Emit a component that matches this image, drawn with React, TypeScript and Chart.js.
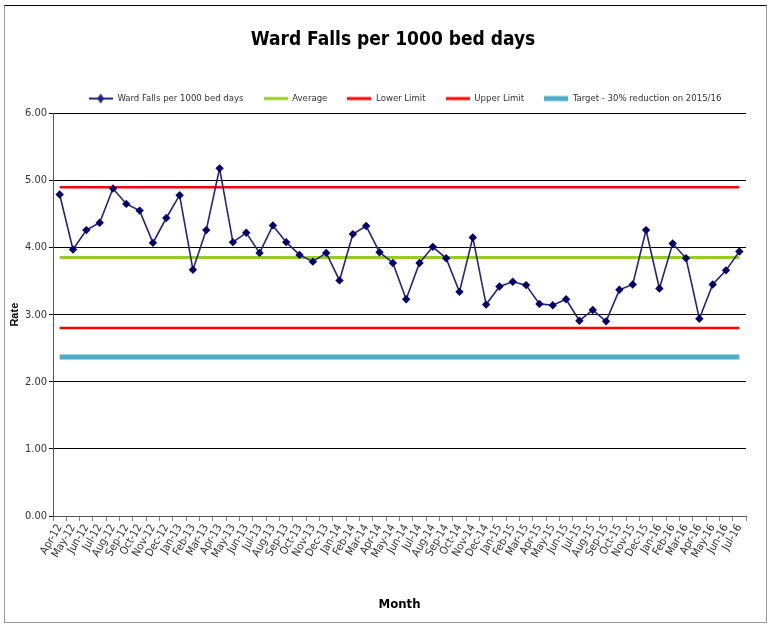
import React, { useEffect, useRef } from "react";
import { Chart, registerables } from "chart.js";

Chart.register(...registerables);

const months = [
  "Apr-12","May-12","Jun-12","Jul-12","Aug-12","Sep-12","Oct-12","Nov-12","Dec-12",
  "Jan-13","Feb-13","Mar-13","Apr-13","May-13","Jun-13","Jul-13","Aug-13","Sep-13","Oct-13","Nov-13","Dec-13",
  "Jan-14","Feb-14","Mar-14","Apr-14","May-14","Jun-14","Jul-14","Aug-14","Sep-14","Oct-14","Nov-14","Dec-14",
  "Jan-15","Feb-15","Mar-15","Apr-15","May-15","Jun-15","Jul-15","Aug-15","Sep-15","Oct-15","Nov-15","Dec-15",
  "Jan-16","Feb-16","Mar-16","Apr-16","May-16","Jun-16","Jul-16",
];

const fallsRate = [
  4.79, 3.97, 4.26, 4.37, 4.88, 4.65, 4.55, 4.07, 4.44,
  4.78, 3.67, 4.26, 5.18, 4.08, 4.22, 3.92, 4.33, 4.08, 3.89, 3.79, 3.92,
  3.51, 4.20, 4.32, 3.93, 3.77, 3.23, 3.77, 4.01, 3.84, 3.34, 4.15, 3.15,
  3.42, 3.49, 3.44, 3.16, 3.14, 3.23, 2.91, 3.07, 2.90, 3.37, 3.45, 4.26,
  3.39, 4.06, 3.84, 2.94, 3.45, 3.66, 3.94,
];

const averageValue = 3.85;
const lowerLimitValue = 2.80;
const upperLimitValue = 4.90;
const targetValue = 2.37;

const yTicks = [0, 1, 2, 3, 4, 5, 6];

const FONT = '"DejaVu Sans Condensed", "Liberation Sans Narrow", "Arial Narrow", "Liberation Sans", Arial, sans-serif';

function makeIcon(color: string, width: number, marker: boolean) {
  const c = document.createElement("canvas");
  c.width = 24;
  c.height = 12;
  const ctx = c.getContext("2d")!;
  ctx.strokeStyle = color;
  ctx.lineWidth = width;
  ctx.beginPath();
  ctx.moveTo(0, 6);
  ctx.lineTo(24, 6);
  ctx.stroke();
  if (marker) {
    ctx.fillStyle = color;
    ctx.beginPath();
    ctx.moveTo(12, 1);
    ctx.lineTo(15.5, 6);
    ctx.lineTo(12, 11);
    ctx.lineTo(8.5, 6);
    ctx.closePath();
    ctx.fill();
  }
  return c;
}

const shiftBoxes = {
  id: "shiftBoxes",
  afterLayout(chart: any) {
    if (chart.legend) {
      chart.legend.left += 28;
      chart.legend.right += 28;
    }
    if (chart.titleBlock) {
      chart.titleBlock.left += 16;
      chart.titleBlock.right += 16;
    }
  },
};

export default function App() {
  const canvasRef = useRef<HTMLCanvasElement | null>(null);

  useEffect(() => {
    if (!canvasRef.current) return;
    const seriesColor = "#22228a";
    const avgColor = "#99cc22";
    const limitColor = "#ff0000";
    const targetColor = "#4bacc6";

    const icons = [
      makeIcon(seriesColor, 2, true),
      makeIcon(avgColor, 3, false),
      makeIcon(limitColor, 3, false),
      makeIcon(limitColor, 3, false),
      makeIcon(targetColor, 5, false),
    ];

    const chart = new Chart(canvasRef.current, {
      type: "line",
      plugins: [shiftBoxes],
      data: {
        labels: months,
        datasets: [
          {
            label: "Ward Falls per 1000 bed days",
            data: fallsRate,
            borderColor: seriesColor,
            backgroundColor: "#000070",
            borderWidth: 1.6,
            pointStyle: "rectRot",
            pointRadius: 4.2,
            pointBorderWidth: 0,
            pointBackgroundColor: "#00006e",
            tension: 0,
            order: 0,
          },
          {
            label: "Average",
            data: months.map(() => averageValue),
            borderColor: avgColor,
            borderWidth: 3,
            pointRadius: 0,
            order: 1,
          },
          {
            label: "Lower Limit",
            data: months.map(() => lowerLimitValue),
            borderColor: limitColor,
            borderWidth: 2.5,
            pointRadius: 0,
            order: 1,
          },
          {
            label: "Upper Limit",
            data: months.map(() => upperLimitValue),
            borderColor: limitColor,
            borderWidth: 2.5,
            pointRadius: 0,
            order: 1,
          },
          {
            label: "Target - 30% reduction on 2015/16",
            data: months.map(() => targetValue),
            borderColor: targetColor,
            borderWidth: 5,
            pointRadius: 0,
            order: 1,
          },
        ],
      },
      options: {
        animation: false,
        responsive: false,
        maintainAspectRatio: false,
        layout: { padding: { top: 0, left: 8, right: 23, bottom: 10 } },
        plugins: {
          title: {
            display: true,
            text: "Ward Falls per 1000 bed days",
            color: "#000",
            font: { family: FONT, size: 19, weight: "bold" },
            padding: { top: 29, bottom: 22 },
          },
          legend: {
            display: true,
            labels: {
              usePointStyle: true,
              pointStyleWidth: 24,
              boxHeight: 11,
              padding: 20,
              color: "#333",
              font: { family: FONT, size: 9.5 },
              generateLabels: (ch: any) =>
                ch.data.datasets.map((ds: any, i: number) => ({
                  text: ds.label,
                  pointStyle: icons[i],
                  fillStyle: ds.borderColor,
                  strokeStyle: ds.borderColor,
                  lineWidth: 0,
                  hidden: false,
                  datasetIndex: i,
                  fontColor: "#333",
                })),
            },
          },
          tooltip: { enabled: false },
        },
        scales: {
          x: {
            offset: true,
            grid: {
              offset: true,
              drawOnChartArea: false,
              drawTicks: true,
              tickLength: 5,
              color: "#888",
            },
            border: { color: "#555", width: 1 },
            ticks: {
              autoSkip: false,
              minRotation: 60,
              maxRotation: 60,
              color: "#333",
              padding: 1,
              font: { family: FONT, size: 11 },
            },
            title: {
              display: true,
              text: "Month",
              color: "#000",
              font: { family: FONT, size: 13, weight: "bold" },
              padding: { top: 4, bottom: 4 },
            },
            afterFit: (scale: any) => {
              scale.height = 100;
            },
          },
          y: {
            min: 0,
            max: 6,
            afterBuildTicks: (scale: any) => {
              scale.ticks = yTicks.map((v) => ({ value: v }));
            },
            grid: {
              color: "#000",
              lineWidth: 1,
              drawTicks: true,
              tickLength: 4,
            },
            border: { color: "#555", width: 1 },
            ticks: {
              color: "#333",
              padding: 2,
              font: { family: FONT, size: 11 },
              callback: (v: any) => Number(v).toFixed(2),
            },
            title: {
              display: true,
              text: "Rate",
              color: "#000",
              font: { family: "Arial, 'Liberation Sans', sans-serif", size: 11, weight: "bold" },
              padding: { top: 0, bottom: 2 },
            },
            afterFit: (scale: any) => {
              scale.width = 45;
            },
          },
        },
      },
    });
    return () => chart.destroy();
  }, []);

  return (
    <div style={{ position: "fixed", left: 0, top: 0, width: 769, height: 626, background: "#fff" }}>
      <div
        style={{
          position: "absolute",
          left: 4,
          top: 5,
          width: 761,
          height: 616,
          borderTop: "1px solid #000",
          borderLeft: "1px solid #999",
          borderRight: "1px solid #999",
          borderBottom: "1px solid #999",
        }}
      />
      <canvas ref={canvasRef} width={769} height={626} style={{ position: "absolute", left: 0, top: 0 }} />
    </div>
  );
}
